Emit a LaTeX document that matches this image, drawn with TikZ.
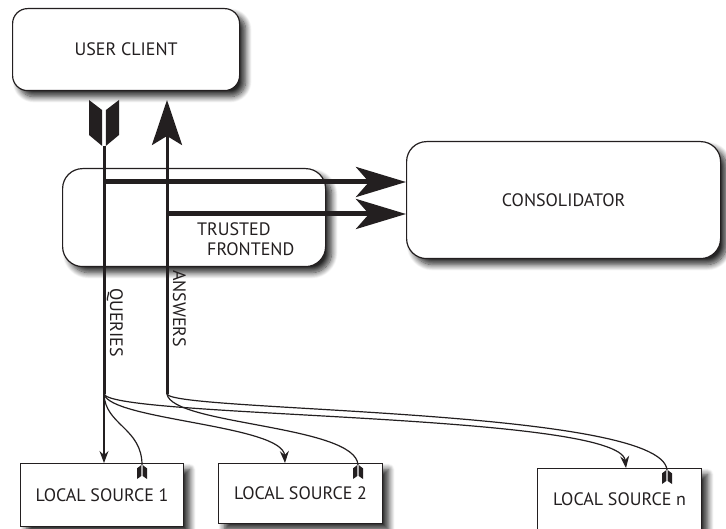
\documentclass[tikz,border=0pt]{standalone}
\usepackage{fontspec}
\setmainfont{PT Sans}
\usetikzlibrary{arrows.meta,shadows.blur,calc}
\definecolor{ink}{HTML}{231F20}
\begin{document}
\begin{tikzpicture}[x=1pt,y=-1pt,
  font=\fontsize{18}{20}\selectfont,
  every node/.style={text=ink},
  shadowed/.style={blur shadow={shadow xshift=6pt,shadow yshift=-6pt,
      shadow blur radius=6pt,shadow blur steps=12,shadow opacity=85}},
  roundbox/.style={draw=ink,line width=1.2pt,fill=white,rounded corners=#1,
      shadowed,inner sep=0pt,anchor=north west},
  squarebox/.style={draw=ink,line width=1.2pt,fill=white,shadowed,
      inner sep=0pt,anchor=north west},
  flow/.style={draw=ink,line width=3pt},
  bigarrow/.style={draw=ink,line width=5pt,
      -{Stealth[length=50pt,width=30pt,inset=13pt]}},
  thinline/.style={draw=ink,line width=1.2pt},
  thinarrow/.style={thinline,-{Stealth[length=12pt,width=9pt,inset=4pt]}},
  vlabel/.style={rotate=-90,anchor=base west,inner sep=0pt},
  feather/.pic={
    \fill[ink] (-1,-1) -- (-0.12,-0.78) -- (-0.12,0) -- (-1,-0.24) -- cycle;
    \fill[ink] (1,-1) -- (0.12,-0.78) -- (0.12,0) -- (1,-0.24) -- cycle;
  },
]
\useasboundingbox (0,0) rectangle (726,529);

% boxes
\node[roundbox=15pt,minimum width=227pt,minimum height=82pt] (client) at (12,8) {USER CLIENT};
\node[roundbox=20pt,minimum width=263pt,minimum height=98pt] (front) at (62,168) {};
\node[anchor=north west,align=left,inner sep=0pt] (frontlabel) at (197,222)
  {TRUSTED\\\hspace*{10pt}FRONTEND};
\node[roundbox=20pt,minimum width=314pt,minimum height=117pt] (cons) at (406,141) {CONSOLIDATOR};
\node[squarebox,minimum width=163pt,minimum height=63pt] (ls1) at (20,463) {LOCAL SOURCE 1};
\node[squarebox,minimum width=164pt,minimum height=60pt] (ls2) at (218,463) {LOCAL SOURCE 2};
\node[squarebox,minimum width=164pt,minimum height=61pt] (lsn) at (537,468) {LOCAL SOURCE n};

% main query and answer channels
\coordinate (qtop) at (104,146);
\coordinate (qbot) at (104,394);
\coordinate (atop) at (167,100);
\coordinate (abot) at (167,394);
\coordinate (qsplit) at (104,182);
\coordinate (asplit) at (167,214);

\draw[flow] (qtop) -- (qbot);
\draw[flow,-{Stealth[length=45pt,width=30pt,inset=9pt]}] (abot) -- (atop);
\pic[xscale=15,yscale=46] at (qtop) {feather};

\draw[bigarrow] (qsplit) -- (qsplit -| cons.west);
\draw[bigarrow] (asplit) -- (asplit -| cons.west);

\node[vlabel] (qlabel) at (110,288) {QUERIES};
\node[vlabel] (alabel) at (173,270) {ANSWERS};

% fan-out to the local sources
\coordinate (ls1a) at ($(ls1.north west)+(122,2)$);
\coordinate (ls2q) at ($(ls2.north west)+(67,0)$);
\coordinate (ls2a) at ($(ls2.north west)+(140,2)$);
\coordinate (lsnq) at ($(lsn.north west)+(89,0)$);
\coordinate (lsna) at ($(lsn.north west)+(130,2)$);

\draw[thinarrow] (qbot) -- (qbot |- ls1.north);
\draw[thinline] (qbot) .. controls (105,425) and (142,428) .. (ls1a);
\draw[thinarrow] (qbot) .. controls (110,420) and (283,425) .. (ls2q);
\draw[thinline] (abot) .. controls (172,425) and (356,425) .. (ls2a);
\draw[thinarrow] (qbot) .. controls (112,418) and (620,413) .. (lsnq);
\draw[thinline] (abot) .. controls (172,412) and (662,408) .. (lsna);

\pic[xscale=5,yscale=-14] at (ls1a) {feather};
\pic[xscale=5,yscale=-14] at (ls2a) {feather};
\pic[xscale=5,yscale=-14] at (lsna) {feather};
\end{tikzpicture}
\end{document}
